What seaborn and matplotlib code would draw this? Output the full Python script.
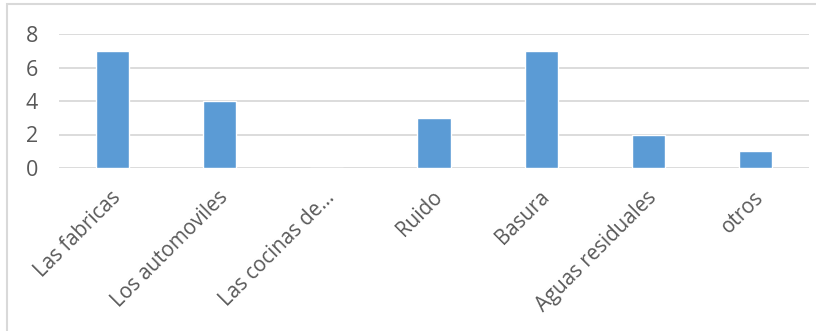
import matplotlib
matplotlib.use("Agg")
import matplotlib.pyplot as plt
import matplotlib.transforms as mtransforms
from matplotlib.patches import Rectangle
import seaborn as sns
import pandas as pd

categorias = ["Las fabricas", "Los automoviles", "Las cocinas de\u2026", "Ruido",
              "Basura", "Aguas residuales", "otros"]
valores = [7, 4, 0, 3, 7, 2, 1]
yticks = [0, 2, 4, 6, 8]

sns.set_theme(style="white")
plt.rcParams["font.family"] = ["Open Sans", "DejaVu Sans"]

df = pd.DataFrame({"categoria": categorias, "valor": valores})

fig = plt.figure(figsize=(8.16, 3.31), dpi=100)
ax = fig.add_axes([59 / 816, 1 - 168 / 331, 750 / 816, 134 / 331])

sns.barplot(data=df, x="categoria", y="valor", color="#5B9BD5", saturation=1,
            width=0.31, ax=ax, zorder=3)

ax.set_ylim(0, 8)
ax.set_yticks(yticks)
ax.set_xlim(-0.5, len(categorias) - 0.5)
ax.grid(axis="y", color="#D9D9D9", linewidth=1.3, zorder=0)
ax.grid(axis="x", visible=False)
for s in ax.spines.values():
    s.set_visible(False)
ax.set_xlabel("")
ax.set_ylabel("")
ax.tick_params(axis="y", length=0, pad=15, labelsize=15.5, labelcolor="#595959")
ax.tick_params(axis="x", length=0, pad=19, labelsize=14.8, labelcolor="#595959")
shift = mtransforms.ScaledTranslation(5 / 100, 0, fig.dpi_scale_trans)
for lbl in ax.get_xticklabels():
    lbl.set_rotation(45)
    lbl.set_rotation_mode("anchor")
    lbl.set_ha("right")
    lbl.set_va("center")
    lbl.set_transform(lbl.get_transform() + shift)

# chart area frame
fig.patches.append(Rectangle((7 / 816, -0.1), 1.0, 1 - 4 / 331 + 0.1,
                             transform=fig.transFigure, fill=False,
                             edgecolor="#D9D9D9", linewidth=1.5))

fig.savefig("out.png", dpi=100)
